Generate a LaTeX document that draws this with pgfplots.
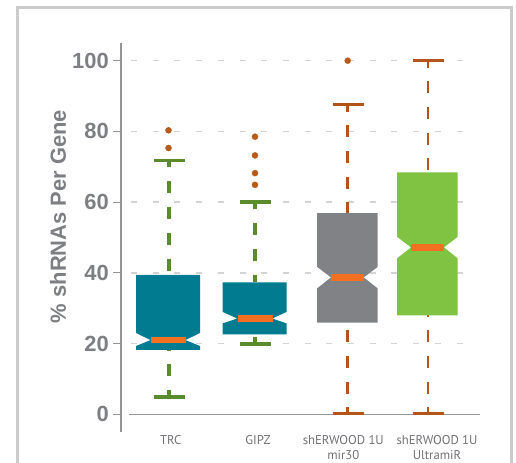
\documentclass[border=0pt]{standalone}
\usepackage{pgfplots}
\pgfplotsset{compat=1.18}
\usepackage{fontspec}
\setmainfont{PT Sans}
\newfontfamily\boldlab{Liberation Sans}
\definecolor{boxteal}{HTML}{007B8F}
\definecolor{boxgray}{HTML}{818286}
\definecolor{boxgreen}{HTML}{80C242}
\definecolor{medorange}{HTML}{F37021}
\definecolor{whiskgreen}{HTML}{5A8C2E}
\definecolor{whiskbrown}{HTML}{B5541A}
\definecolor{outlier}{HTML}{B85A1A}
\definecolor{gridgray}{HTML}{D4D4D4}
\definecolor{axisgray}{HTML}{959595}
\definecolor{textgray}{HTML}{7D7F82}
\definecolor{framegray}{HTML}{CCCCCC}
\begin{document}
\begin{tikzpicture}[x=1bp,y=1bp]
\useasboundingbox (0,0) rectangle (516,463);
\draw[framegray, line width=3bp] (17,-5) -- (17,455) -- (511,455) -- (511,-5);
\begin{axis}[
  at={(121bp,31bp)}, anchor=south west,
  scale only axis, width=359bp, height=389bp,
  xmin=121, xmax=480, ymin=-5, ymax=105,
  axis lines*=left,
  x axis line style={draw=none},
  y axis line style={axisgray, line width=1.5bp},
  ytick={0,20,40,60,80,100},
  tick align=outside, major tick length=8bp,
  ytick style={axisgray, line width=1bp},
  xtick={170.7,258,343.3,437},
  xticklabels={TRC, GIPZ, shERWOOD 1U\\mir30, shERWOOD 1U\\UltramiR},
  xtick style={draw=none},
  xticklabel style={align=center, font=\fontsize{12.8}{15}\selectfont, text=textgray!90!black, anchor=north, inner sep=0pt, yshift=5bp},
  yticklabel style={font=\fontsize{22}{24}\selectfont\boldlab\bfseries, text=textgray, inner sep=0pt, xshift=-4bp},
  /pgf/number format/assume math mode=true,
  ylabel={\% shRNAs Per Gene},
  ylabel style={at={(axis description cs:-0.1755,0.554)}, anchor=center, font=\fontsize{22}{24}\selectfont\boldlab\bfseries, text=textgray},
  clip=false,
]
% grid lines
\foreach \g in {20,40,60,80,100} {
  \edef\temp{\noexpand\draw[gridgray, line width=1.3bp, dash pattern=on 6bp off 15.7bp] (axis cs:131,\g) -- (axis cs:463,\g);}
  \temp
}
% x axis line at 0
\draw[axisgray, line width=1.3bp] (axis cs:129,0) -- (axis cs:480,0);

% ---- whiskers TRC (green)
\addplot[whiskgreen, line width=4bp, dash pattern=on 12bp off 14bp, dash phase=5bp] coordinates {(168.5,71.8) (168.5,39.4)};
\addplot[whiskgreen, line width=4bp, dash pattern=on 12bp off 14bp, dash phase=5bp] coordinates {(168.5,4.9) (168.5,18.2)};
\addplot[whiskgreen, line width=3.5bp] coordinates {(153.5,71.8) (184.5,71.8)};
\addplot[whiskgreen, line width=3.5bp] coordinates {(153.5,4.9) (184.5,4.9)};
% ---- whiskers GIPZ (green)
\addplot[whiskgreen, line width=4bp, dash pattern=on 12bp off 14bp, dash phase=5bp] coordinates {(255,60.1) (255,37.3)};
\addplot[whiskgreen, line width=4bp, dash pattern=on 12bp off 14bp, dash phase=5bp] coordinates {(255,19.9) (255,22.6)};
\addplot[whiskgreen, line width=3.5bp] coordinates {(240,60.1) (271,60.1)};
\addplot[whiskgreen, line width=3.5bp] coordinates {(240,19.9) (271,19.9)};
% ---- whiskers mir30 (brown)
\addplot[whiskbrown, line width=2.5bp, dash pattern=on 12bp off 13.7bp, dash phase=5bp] coordinates {(347.7,87.6) (347.7,56.9)};
\addplot[whiskbrown, line width=2.5bp, dash pattern=on 12bp off 13.7bp, dash phase=5bp] coordinates {(347.7,0) (347.7,25.9)};
\addplot[whiskbrown, line width=2.5bp] coordinates {(333,87.6) (364,87.6)};
\addplot[whiskbrown, line width=2.5bp] coordinates {(333,0.3) (364,0.3)};
% ---- whiskers UltramiR (brown)
\addplot[whiskbrown, line width=2.5bp, dash pattern=on 12bp off 13.7bp, dash phase=5bp] coordinates {(428,100) (428,68.4)};
\addplot[whiskbrown, line width=2.5bp, dash pattern=on 12bp off 13.7bp, dash phase=5bp] coordinates {(428,0) (428,28.0)};
\addplot[whiskbrown, line width=2.5bp] coordinates {(413,100) (444,100)};
\addplot[whiskbrown, line width=2.5bp] coordinates {(413,0.3) (444,0.3)};

% ---- notched boxes
\addplot[fill=boxteal, draw=none] coordinates {(136,39.4) (200,39.4) (200,23.0) (185.5,21.0) (200,19.3) (200,18.2) (136,18.2) (136,19.3) (150.5,21.0) (136,23.0)} --cycle;
\addplot[fill=boxteal, draw=none] coordinates {(222.7,37.3) (286.7,37.3) (286.7,28.95) (272.2,27.1) (286.7,25.7) (286.7,22.6) (222.7,22.6) (222.7,25.7) (237.2,27.1) (222.7,28.95)} --cycle;
\addplot[fill=boxgray, draw=none] coordinates {(317,56.9) (377.7,56.9) (377.7,41.7) (363.7,38.7) (377.7,35.6) (377.7,25.9) (317,25.9) (317,35.6) (331,38.7) (317,41.7)} --cycle;
\addplot[fill=boxgreen, draw=none] coordinates {(397,68.4) (457.7,68.4) (457.7,50.2) (444,47.2) (457.7,44.1) (457.7,28.0) (397,28.0) (397,44.1) (411,47.2) (397,50.2)} --cycle;

% ---- medians
\addplot[fill=medorange, draw=none] coordinates {(151,20.05) (186,20.05) (186,21.95) (151,21.95)} --cycle;
\addplot[fill=medorange, draw=none] coordinates {(237.7,26.15) (273,26.15) (273,28.05) (237.7,28.05)} --cycle;
\addplot[fill=medorange, draw=none] coordinates {(331,37.75) (363.7,37.75) (363.7,39.65) (331,39.65)} --cycle;
\addplot[fill=medorange, draw=none] coordinates {(411,46.25) (444,46.25) (444,48.15) (411,48.15)} --cycle;

% ---- outliers
\addplot[only marks, mark=*, mark size=3bp, color=outlier] coordinates {
  (168.5,80.3) (168.5,75.3)
  (255,78.5) (255,73.2) (255,68.2) (255,64.9)
  (347.7,100)
};
\end{axis}
\end{tikzpicture}
\end{document}
